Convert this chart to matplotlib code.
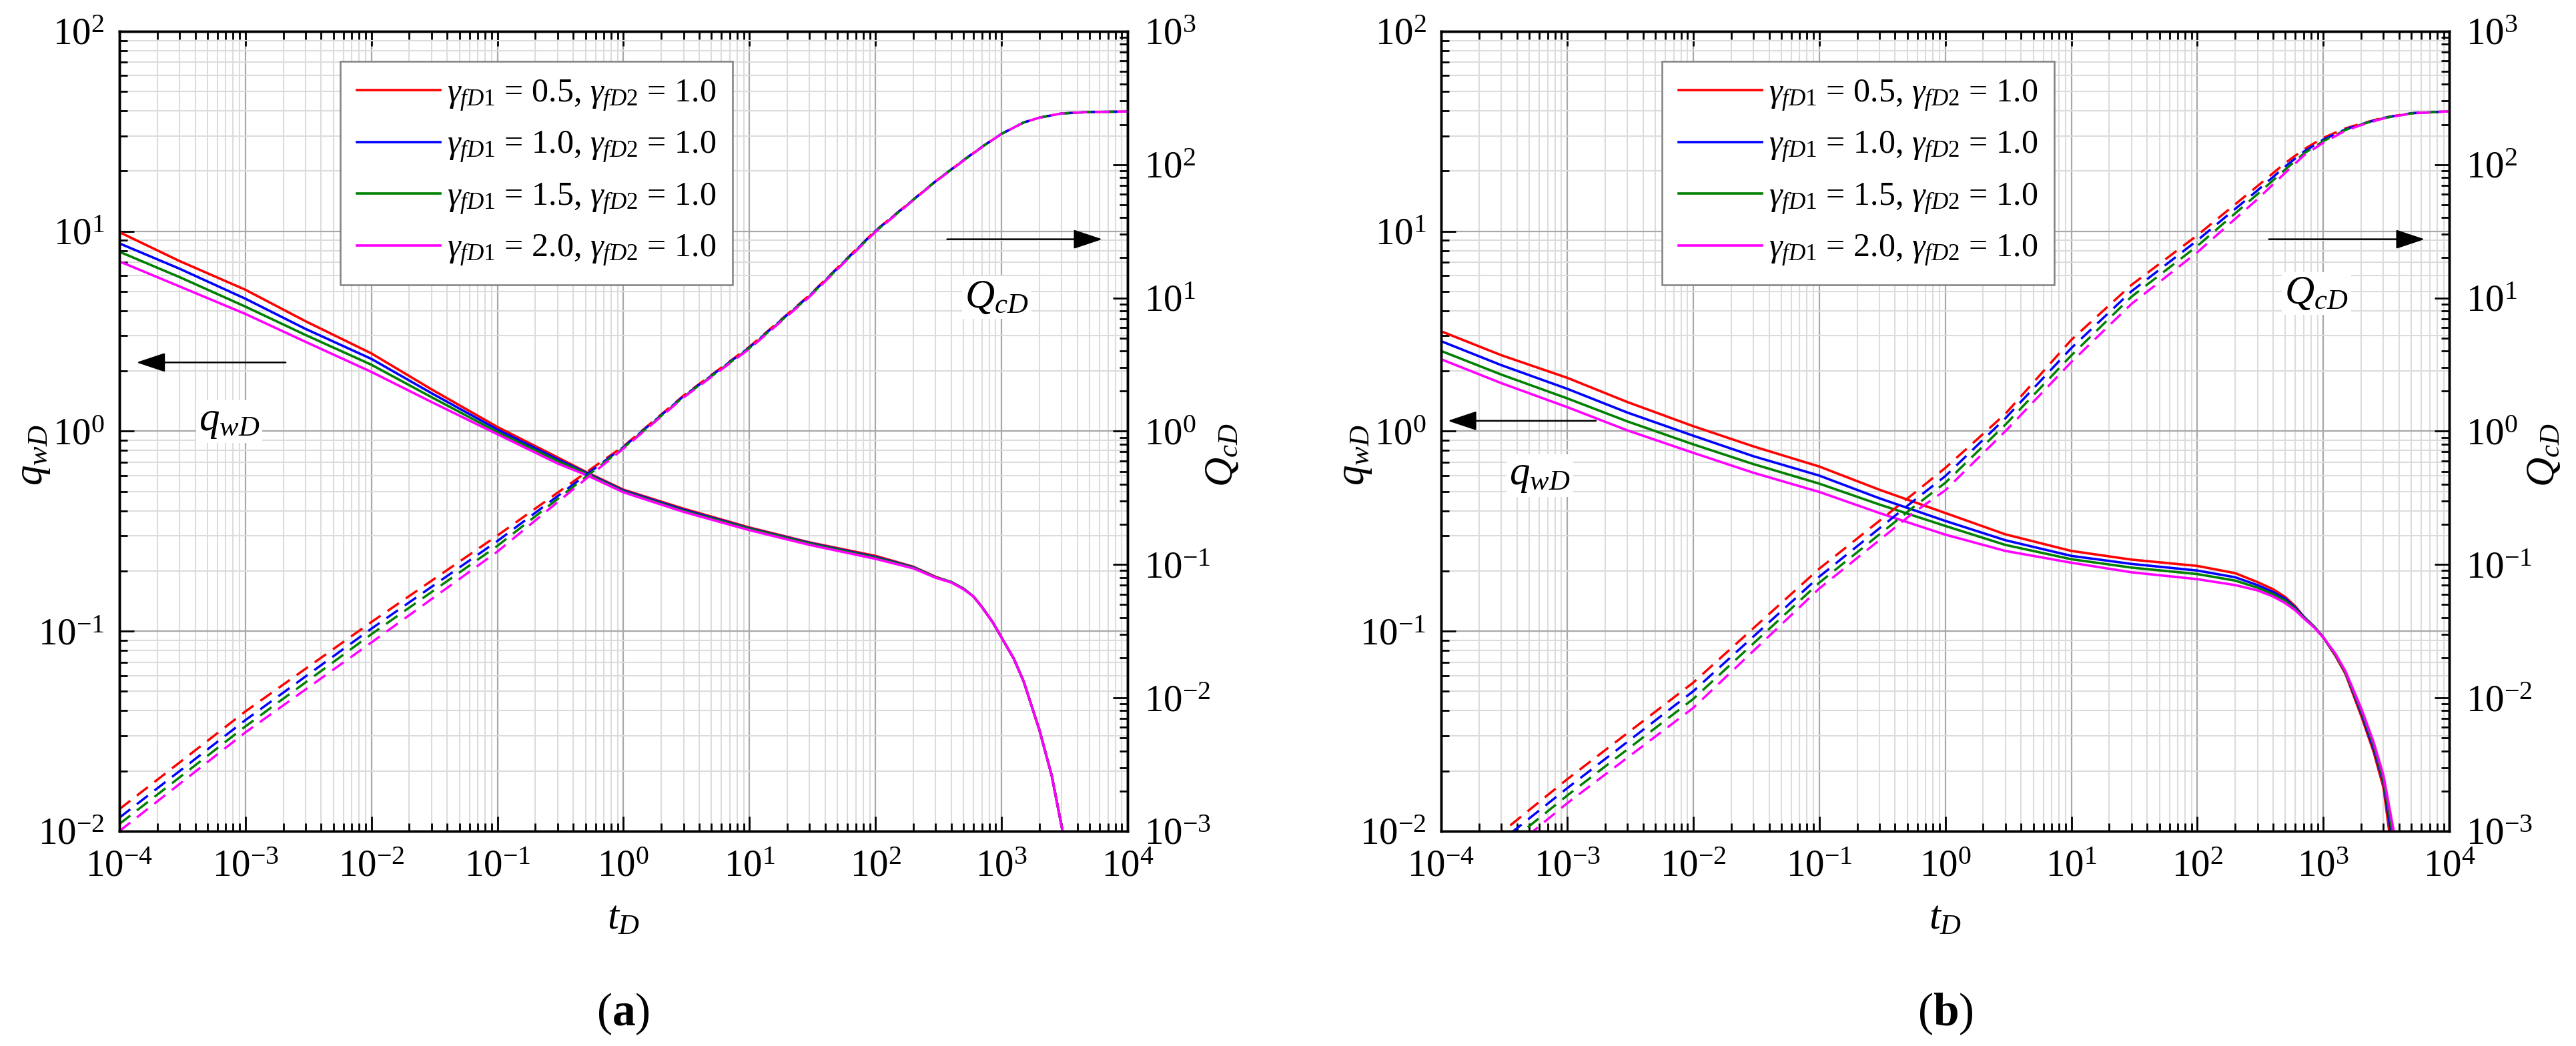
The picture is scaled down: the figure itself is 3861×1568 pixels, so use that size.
import numpy as np
import matplotlib
matplotlib.use('Agg')
import matplotlib.pyplot as plt
from matplotlib.ticker import LogLocator, FixedLocator, NullFormatter

plt.rcParams.update({
    'font.family': ['Liberation Serif', 'DejaVu Serif'],
    'mathtext.fontset': 'custom',
    'mathtext.rm': 'Liberation Serif',
    'mathtext.it': 'Liberation Serif:italic',
    'mathtext.bf': 'Liberation Serif:bold',
    'axes.unicode_minus': False,
})

colors = ['#ff0000', '#0000ff', '#008000', '#ff00ff']
gamma_fd1 = ['0.5', '1.0', '1.5', '2.0']
labels = [r'$\gamma_{\mathit{fD1}}$ = %s, $\gamma_{\mathit{fD2}}$ = 1.0' % g for g in gamma_fd1]

# ---- panel (a): rate q_wD (left axis) ----
tq_a = [1e-4, 3e-4, 1e-3, 3e-3, 1e-2, 3e-2, 0.1, 0.3, 0.52, 1, 3, 10, 30, 100,
        200, 300, 400, 500, 600, 700, 850, 1000, 1250, 1500, 2000, 2500, 3100]
q_a = [
    [9.9, 7.1, 5.1, 3.55, 2.45, 1.62, 1.05, 0.74, 0.62, 0.51, 0.41, 0.33, 0.278, 0.238,
     0.21, 0.187, 0.176, 0.163, 0.149, 0.132, 0.111, 0.093, 0.073, 0.056, 0.032, 0.019, 0.0095],
    [8.7, 6.5, 4.6, 3.25, 2.3, 1.55, 1.02, 0.725, 0.615, 0.505, 0.405, 0.327, 0.276, 0.235,
     0.209, 0.186, 0.176, 0.163, 0.149, 0.132, 0.111, 0.093, 0.073, 0.056, 0.032, 0.019, 0.0095],
    [7.9, 5.9, 4.2, 3.03, 2.15, 1.48, 0.99, 0.71, 0.61, 0.50, 0.40, 0.325, 0.274, 0.233,
     0.208, 0.186, 0.176, 0.163, 0.149, 0.132, 0.111, 0.093, 0.073, 0.056, 0.032, 0.019, 0.0095],
    [7.07, 5.3, 3.86, 2.8, 1.98, 1.4, 0.966, 0.69, 0.60, 0.495, 0.395, 0.32, 0.27, 0.23,
     0.206, 0.185, 0.175, 0.162, 0.149, 0.132, 0.111, 0.093, 0.073, 0.056, 0.032, 0.019, 0.0095],
]

# ---- panel (a): cumulative Q_cD (right axis) ----
tQ_a = [1e-4, 1e-3, 1e-2, 0.1, 0.52, 1, 3, 10, 30, 100, 300, 500, 700, 1000, 1500,
        2000, 3000, 5000, 1e4]
Q_a = [
    [0.00146, 0.0079, 0.037, 0.165, 0.50, 0.77, 1.85, 4.3, 10.5, 32, 75, 108, 136, 170, 207,
     225, 242, 248, 250],
    [0.00126, 0.0068, 0.033, 0.150, 0.48, 0.76, 1.83, 4.25, 10.4, 31.8, 75, 108, 136, 170, 207,
     225, 242, 248, 250],
    [0.00113, 0.0061, 0.030, 0.138, 0.465, 0.75, 1.81, 4.2, 10.3, 31.5, 75, 107.5, 135.5, 170, 207,
     225, 242, 248, 250],
    [0.00100, 0.0055, 0.026, 0.125, 0.45, 0.74, 1.79, 4.15, 10.2, 31.3, 74.5, 107, 135, 170, 207,
     225, 242, 248, 250],
]

# ---- panel (b): rate q_wD ----
tq_b = [1e-4, 3e-4, 1e-3, 3e-3, 1e-2, 3e-2, 0.1, 0.3, 1, 3, 10, 30, 100, 200, 300,
        400, 500, 600, 700, 850, 1000, 1250, 1500, 2000, 2500, 3000]
t_end_b = [3350, 3450, 3550, 3650]
q_b = [
    [3.16, 2.4, 1.85, 1.4, 1.06, 0.84, 0.666, 0.51, 0.39, 0.305, 0.252, 0.228, 0.212, 0.195,
     0.176, 0.162, 0.148, 0.133, 0.118, 0.105, 0.093, 0.075, 0.061, 0.0376, 0.025, 0.0165, 0.0097],
    [2.82, 2.14, 1.63, 1.24, 0.95, 0.75, 0.60, 0.462, 0.356, 0.285, 0.238, 0.217, 0.201, 0.186,
     0.170, 0.157, 0.145, 0.131, 0.118, 0.105, 0.093, 0.076, 0.062, 0.039, 0.026, 0.0175, 0.0097],
    [2.52, 1.92, 1.46, 1.12, 0.86, 0.685, 0.547, 0.43, 0.336, 0.27, 0.229, 0.208, 0.193, 0.179,
     0.165, 0.153, 0.142, 0.129, 0.117, 0.105, 0.093, 0.076, 0.062, 0.040, 0.027, 0.018, 0.0097],
    [2.29, 1.74, 1.32, 1.01, 0.78, 0.62, 0.497, 0.39, 0.304, 0.252, 0.22, 0.197, 0.182, 0.170,
     0.160, 0.149, 0.138, 0.127, 0.116, 0.104, 0.093, 0.077, 0.063, 0.041, 0.028, 0.019, 0.0097],
]

# ---- panel (b): cumulative Q_cD ----
tQ_b = [1e-4, 1e-3, 1e-2, 0.1, 0.56, 1, 3, 10, 30, 100, 300, 500, 700, 1000, 1500,
        2000, 3000, 5000, 1e4]
Q_b = [
    [0.00042, 0.00245, 0.013, 0.093, 0.34, 0.53, 1.35, 4.84, 12.5, 29.5, 69, 103, 130, 159, 187,
     203, 225, 243, 251],
    [0.00037, 0.0021, 0.0112, 0.081, 0.30, 0.46, 1.25, 4.2, 11.2, 27, 64, 97, 125, 154, 184,
     201, 224, 243, 251],
    [0.00032, 0.00185, 0.0098, 0.073, 0.27, 0.41, 1.12, 3.7, 10.2, 24.5, 60, 92, 121, 150, 182,
     200, 223, 242, 251],
    [0.00027, 0.00162, 0.0084, 0.066, 0.245, 0.36, 1.0, 3.3, 9.0, 22, 55, 87, 117, 146, 180,
     198, 222, 242, 251],
]

TICK_FS = 41
LABEL_FS = 44


def style_log_axis(axis, lo, hi):
    # only the decades inside the limits, so no hidden labels sit off the figure
    axis.set_major_locator(FixedLocator(10.0 ** np.arange(lo, hi + 1)))
    axis.set_minor_locator(LogLocator(base=10, subs=np.arange(2, 10), numticks=30))
    axis.set_minor_formatter(NullFormatter())


def draw_panel(ax, tq_list, q_list, tQ_list, Q_list, arrows, panel_tag):
    ax2 = ax.twinx()

    for i in range(4):
        ax.plot(tq_list[i], q_list[i], color=colors[i], lw=2.6, label=labels[i], zorder=3)
        ax2.plot(tQ_list[i], Q_list[i], color=colors[i], lw=2.5, dashes=(6, 3.6))

    ax.set_xscale('log')
    ax.set_yscale('log')
    ax2.set_yscale('log')
    style_log_axis(ax.xaxis, -4, 4)
    style_log_axis(ax.yaxis, -2, 2)
    style_log_axis(ax2.yaxis, -3, 3)
    ax.set_xlim(1e-4, 1e4)
    ax.set_ylim(1e-2, 1e2)
    ax2.set_ylim(1e-3, 1e3)

    ax.grid(which='major', color='#a8a8a8', lw=1.6)
    ax.grid(which='minor', color='#dcdcdc', lw=1.5)
    ax.set_axisbelow(True)

    for a in (ax, ax2):
        for sp in a.spines.values():
            sp.set_linewidth(2.5)
    ax.tick_params(which='both', direction='in', top=True, right=False, width=2,
                   labelsize=TICK_FS)
    ax.tick_params(axis='x', pad=20)
    ax.tick_params(axis='y', pad=16)
    ax.tick_params(which='major', length=16)
    ax.tick_params(which='minor', length=8.5)
    ax2.tick_params(which='both', direction='in', left=False, width=2,
                    labelsize=TICK_FS, pad=18)
    ax2.tick_params(which='major', length=16)
    ax2.tick_params(which='minor', length=8.5)

    ax.set_xlabel(r'$t_D$', fontsize=LABEL_FS)
    ax.xaxis.set_label_coords(0.5, -0.110)
    ax.xaxis.label.set_va('center')
    ax.set_ylabel(r'$q_{wD}$', fontsize=LABEL_FS)
    ax.yaxis.set_label_coords(-0.085, 0.47)
    ax.yaxis.label.set_va('center')
    ax2.set_ylabel(r'$Q_{cD}$', fontsize=LABEL_FS, rotation=90)
    ax2.yaxis.set_label_coords(1.094, 0.47)
    ax2.yaxis.label.set_va('center')

    leg = ax.legend(loc='upper left', bbox_to_anchor=(0.219, 0.962), fontsize=36,
                    handlelength=2.5, handletextpad=0.2, borderpad=0.5,
                    labelspacing=0.5, borderaxespad=0, fancybox=False,
                    framealpha=1, edgecolor='#808080')
    leg.get_frame().set_linewidth(1.8)

    arrow_kw = dict(arrowstyle='-|>,head_length=0.45,head_width=0.15', mutation_scale=60,
                    lw=1.8, color='black', shrinkA=0, shrinkB=0)
    (qx0, qx1, qy, qlx, qly), (Qx0, Qx1, Qy, Qlx, Qly) = arrows
    ax.annotate('', xy=(qx1, qy), xytext=(qx0, qy), xycoords='axes fraction',
                arrowprops=arrow_kw)
    ax.annotate('', xy=(Qx1, Qy), xytext=(Qx0, Qy), xycoords='axes fraction',
                arrowprops=arrow_kw)
    box = dict(facecolor='white', edgecolor='none', pad=3)
    ax.text(qlx, qly, r'$q_{wD}$', transform=ax.transAxes, ha='center', va='center',
            fontsize=LABEL_FS, bbox=box, zorder=4)
    ax.text(Qlx, Qly, r'$Q_{cD}$', transform=ax.transAxes, ha='center', va='center',
            fontsize=LABEL_FS, bbox=box, zorder=4)

    ax.text(0.5, -0.229, panel_tag, transform=ax.transAxes, ha='center', va='center',
            fontsize=50)
    return ax2


fig = plt.figure(figsize=(38.62, 15.68), dpi=100)
ax_a = fig.add_axes([0.0463, 0.2054, 0.3913, 0.7647])
ax_b = fig.add_axes([0.5593, 0.2054, 0.3913, 0.7647])

draw_panel(ax_a, [tq_a] * 4, q_a, [tQ_a] * 4, Q_a,
           [(0.165, 0.017, 0.586, 0.109, 0.512), (0.821, 0.975, 0.740, 0.870, 0.667)],
           r'($\mathbf{a}$)')
draw_panel(ax_b, [tq_b + [te] for te in t_end_b], q_b, [tQ_b] * 4, Q_b,
           [(0.1535, 0.0066, 0.513, 0.098, 0.4445), (0.821, 0.9755, 0.740, 0.868, 0.672)],
           r'($\mathbf{b}$)')

fig.savefig('out.png', dpi=100)
